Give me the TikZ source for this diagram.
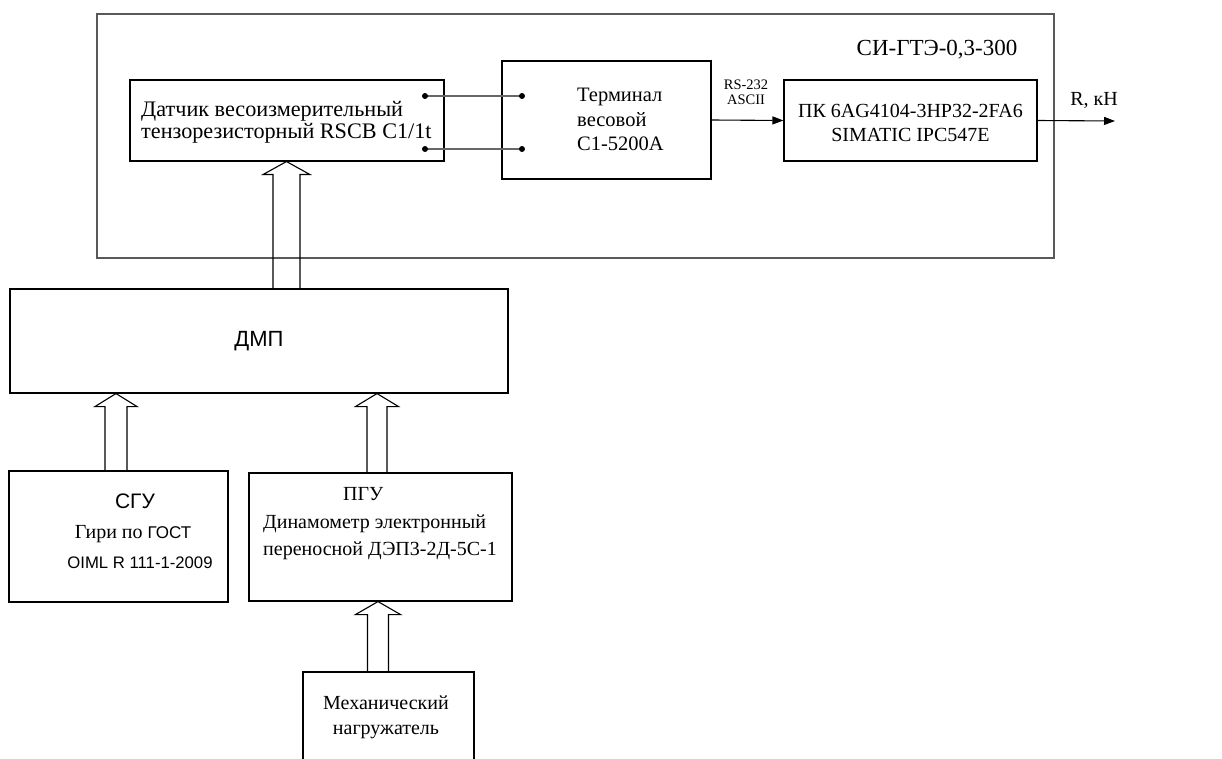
\documentclass[tikz,border=0pt]{standalone}
\usepackage{fontspec}
\setmainfont{Liberation Serif}
\newfontfamily\sansf{Liberation Sans}
\usetikzlibrary{arrows.meta,calc}

\tikzset{
  unitbox/.style={draw, line width=1.1pt, inner sep=0pt},
  wire/.style={draw=black!60, line width=1.4pt},
  signal/.style={draw, line width=1.1pt, -{Triangle[length=11pt,width=8pt]}},
  liftline/.style={draw, line width=1.1pt, line join=miter},
  caption/.style={font=\fontsize{20}{24}\selectfont, align=center, inner sep=0pt},
}

% hollow "force" arrow: foot, tip, half shaft, half head
\newcommand{\liftarrow}[4]{%
  \draw[liftline] ($(#1)+(-#3,0)$) -- ($(#2)+(-#3,13)$) -- ($(#2)+(-#4,13)$) -- (#2)
    -- ($(#2)+(#4,13)$) -- ($(#2)+(#3,13)$) -- ($(#1)+(#3,0)$);}

\begin{document}
\begin{tikzpicture}[x=1pt,y=-1pt]
\clip (0,0) rectangle (1222,759);
\fill[white] (0,0) rectangle (1222,759);

% measuring system frame
\node[draw=black!65, line width=1.7pt, minimum width=957pt, minimum height=244pt] (system) at (575.5,136) {};
\node[caption, font=\fontsize{23}{24}\selectfont] (sysname) at (937,50) {СИ-ГТЭ-0,3-300};

% load cell, terminal, PC
\node[unitbox, minimum width=314pt, minimum height=81pt] (sensor) at (287,120.5) {};
\node[caption, align=left, anchor=west, font=\fontsize{22.2}{22}\selectfont] (sensortext) at (141,122)
  {Датчик весоизмерительный\\тензорезисторный RSCB C1/1t};
\node[unitbox, minimum width=209pt, minimum height=118pt] (terminal) at (606.5,120) {};
\node[caption, align=left, anchor=west, font=\fontsize{20.5}{24.5}\selectfont] (termtext) at (577,119.5)
  {Терминал\\весовой\\С1-5200А};
\node[unitbox, minimum width=253pt, minimum height=81pt] (pc) at (910.5,120.5) {};
\node[caption] (pctext) at (910.5,123) {ПК 6AG4104-3HP32-2FA6\\SIMATIC IPC547E};

\coordinate (s1) at (425,96);
\coordinate (s2) at (425,149);
\coordinate (t1) at (522,96);
\coordinate (t2) at (522,149);
\draw[wire] (s1) -- (t1);
\draw[wire] (s2) -- (t2);
\foreach \p in {s1,s2,t1,t2}
  \fill (\p) circle (3pt);

\draw[signal] (terminal.east) -- (pc.west);
\node[caption, font=\fontsize{14.5}{15}\selectfont] (iface) at (746,92) {RS-232\\ASCII};
\coordinate (out) at (1115,121);
\draw[signal] (pc.east) -- (out);
\node[caption] (outlabel) at (1094,100) {R, кН};

% force path
\node[unitbox, minimum width=498pt, minimum height=104pt, font=\sansf\fontsize{22}{24}\selectfont] (dmp) at (259,341) {ДМП};
\node[unitbox, minimum width=219pt, minimum height=131pt] (sgu) at (118.5,536.5) {};
\node[caption, font=\fontsize{20}{30}\selectfont] (sgutext) at (133,531)
  {{\sansf\fontsize{21}{30}\selectfont\hspace*{4pt}СГУ}\\Гири по {\sansf\fontsize{17}{30}\selectfont ГОСТ}\\{\sansf\fontsize{16.7}{30}\selectfont\hspace*{14pt}OIML R 111-1-2009}};
\node[unitbox, minimum width=263pt, minimum height=128pt] (pgu) at (380.5,537) {};
\node[caption, align=left, anchor=west, font=\fontsize{20}{27.5}\selectfont] (pgutext) at (263,524)
  {\hspace*{80pt}ПГУ\\Динамометр электронный\\переносной ДЭП3-2Д-5С-1};
\node[unitbox, minimum width=171pt, minimum height=120pt] (mech) at (388.5,732) {};
\node[caption, font=\fontsize{20}{25}\selectfont] (mechtext) at (386,717) {Механический\\нагружатель};

\coordinate (liftA) at (286.5,0);
\coordinate (liftB) at (116,0);
\coordinate (liftC) at (377,0);
\coordinate (liftD) at (378,0);
\liftarrow{dmp.north -| liftA}{sensor.south -| liftA}{13.5}{23.5}
\liftarrow{sgu.north -| liftB}{dmp.south -| liftB}{11}{21}
\liftarrow{pgu.north -| liftC}{dmp.south -| liftC}{10}{21.5}
\liftarrow{mech.north -| liftD}{pgu.south -| liftD}{10.5}{22.5}
\end{tikzpicture}
\end{document}
